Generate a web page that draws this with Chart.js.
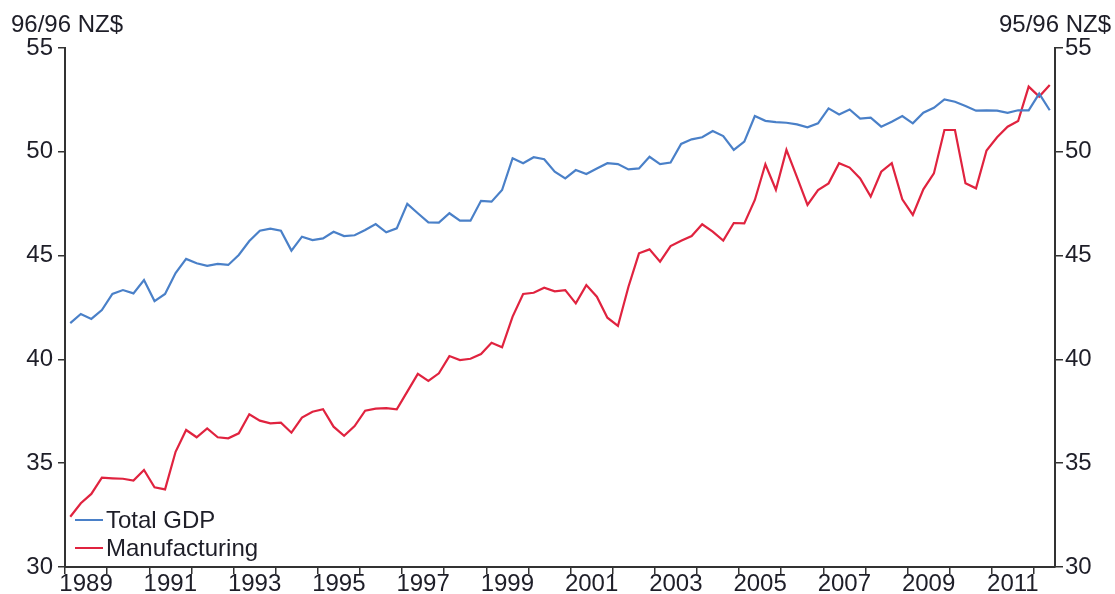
<!DOCTYPE html>
<html><head><meta charset="utf-8">
<script src="https://cdn.jsdelivr.net/npm/chart.js@4.4.0/dist/chart.umd.min.js"></script>
<style>html,body{margin:0;padding:0;background:#fff}#wrap{width:1115px;height:594px}</style>
</head><body><div id="wrap"><canvas id="c" width="1115" height="594"></canvas></div>
<script>
// ---- data ----
const quarters = [];
for (let y = 1989; y <= 2012; y++) {
  for (let q = 1; q <= 4; q++) {
    if (y === 2012 && q > 2) break;
    quarters.push(y + ' Q' + q);
  }
}
const totalGDP = [
  41.75, 42.19, 41.95, 42.38, 43.15, 43.34, 43.18, 43.82, 42.81, 43.15,
  44.16, 44.84, 44.63, 44.51, 44.60, 44.55, 45.03, 45.70, 46.20, 46.30,
  46.20, 45.24, 45.91, 45.75, 45.83, 46.15, 45.94, 45.98, 46.23, 46.52,
  46.12, 46.31, 47.49, 47.04, 46.60, 46.59, 47.04, 46.68, 46.68, 47.64,
  47.60, 48.16, 49.69, 49.45, 49.74, 49.64, 49.04, 48.72, 49.12, 48.93,
  49.20, 49.45, 49.41, 49.15, 49.20, 49.76, 49.41, 49.48, 50.38, 50.60,
  50.70, 51.00, 50.76, 50.09, 50.49, 51.72, 51.49, 51.43, 51.40, 51.32,
  51.18, 51.37, 52.09, 51.80, 52.04, 51.60, 51.64, 51.21, 51.45, 51.72,
  51.37, 51.88, 52.12, 52.52, 52.41, 52.21, 51.98, 52.00, 51.98, 51.88,
  52.00, 52.00, 52.80, 52.00
];
const manufacturing = [
  32.42, 33.07, 33.52, 34.30, 34.27, 34.25, 34.16, 34.67, 33.84, 33.74,
  35.55, 36.60, 36.25, 36.68, 36.25, 36.20, 36.44, 37.36, 37.05, 36.92,
  36.95, 36.47, 37.20, 37.48, 37.60, 36.76, 36.32, 36.79, 37.53, 37.63,
  37.65, 37.60, 38.45, 39.30, 38.96, 39.33, 40.16, 39.97, 40.03, 40.26,
  40.80, 40.58, 42.06, 43.15, 43.21, 43.45, 43.28, 43.34, 42.70, 43.58,
  43.02, 42.01, 41.61, 43.50, 45.11, 45.30, 44.71, 45.46, 45.72, 45.94,
  46.51, 46.15, 45.72, 46.57, 46.55, 47.68, 49.40, 48.17, 50.09, 48.78,
  47.44, 48.16, 48.48, 49.45, 49.24, 48.72, 47.84, 49.04, 49.45, 47.71,
  46.96, 48.19, 48.96, 51.05, 51.05, 48.48, 48.24, 50.06, 50.70, 51.21,
  51.48, 53.14, 52.66, 53.22
];
const seriesNames = ['Total GDP', 'Manufacturing'];
const yearTicks = [1989,1990,1991,1992,1993,1994,1995,1996,1997,1998,1999,2000,
  2001,2002,2003,2004,2005,2006,2007,2008,2009,2010,2011,2012];
const yearLabels = ['1989','1991','1993','1995','1997','1999','2001','2003','2005','2007','2009','2011'];
const yTicks = [30, 35, 40, 45, 50, 55];
const leftUnit = '96/96 NZ$';
const rightUnit = '95/96 NZ$';

// ---- helpers ----
function quarterPos(label) {
  const [y, q] = label.split(' Q');
  return Number(y) + (Number(q) - 0.5) / 4;
}
const toPoints = arr => arr.map((v, i) => ({ x: quarterPos(quarters[i]), y: v }));

const FONT = "'Liberation Sans', Arial, sans-serif";
const FS = 24;
const TXT = '#1e1e28';
const AX = '#333333';
const BLUE = '#4a80c8';
const RED = '#e0233f';

const overlay = {
  id: 'overlay',
  afterDraw(chart) {
    const ctx = chart.ctx;
    const a = chart.chartArea;
    ctx.save();
    ctx.font = FS + 'px ' + FONT;
    ctx.fillStyle = TXT;
    ctx.textBaseline = 'alphabetic';
    ctx.textAlign = 'left';
    ctx.fillText(leftUnit, 11, 32);
    ctx.textAlign = 'right';
    ctx.fillText(rightUnit, 1111, 32);
    // legend inside plot, bottom-left
    const rows = [a.bottom - 47, a.bottom - 19];
    chart.data.datasets.forEach((ds, i) => {
      const y = rows[i];
      ctx.strokeStyle = ds.borderColor;
      ctx.lineWidth = 2;
      ctx.beginPath();
      ctx.moveTo(a.left + 10, y);
      ctx.lineTo(a.left + 38, y);
      ctx.stroke();
      ctx.fillStyle = TXT;
      ctx.textAlign = 'left';
      ctx.textBaseline = 'middle';
      ctx.fillText(ds.label, a.left + 41, y + 1);
    });
    ctx.restore();
  }
};

const yAxisCommon = {
  type: 'linear', min: 30, max: 55,
  afterBuildTicks: s => { s.ticks = yTicks.map(v => ({ value: v })); },
  grid: { drawOnChartArea: false, drawTicks: true, tickLength: 7, color: AX, lineWidth: 1.5 },
  border: { display: true, color: AX, width: 2 },
  ticks: { color: TXT, font: { family: FONT, size: FS } }
};

new Chart(document.getElementById('c'), {
  type: 'line',
  data: {
    datasets: [
      { label: seriesNames[0], data: toPoints(totalGDP), borderColor: BLUE, borderWidth: 2.2, pointRadius: 0, tension: 0, yAxisID: 'y' },
      { label: seriesNames[1], data: toPoints(manufacturing), borderColor: RED, borderWidth: 2.2, pointRadius: 0, tension: 0, yAxisID: 'y2' }
    ]
  },
  options: {
    responsive: false,
    animation: false,
    devicePixelRatio: 1,
    layout: { padding: { top: 48, right: 0, bottom: 0, left: 0 } },
    plugins: { legend: { display: false }, tooltip: { enabled: false }, title: { display: false } },
    scales: {
      x: {
        type: 'linear', min: 1989, max: 2012.5,
        afterBuildTicks: s => {
          const t = [];
          yearTicks.forEach(y => { t.push({ value: y }); t.push({ value: y + 0.5 }); });
          s.ticks = t;
        },
        afterFit: s => { s.height = 27; },
        grid: {
          drawOnChartArea: false, drawTicks: true, tickLength: 7, lineWidth: 1.5,
          color: c => (c.tick && Number.isInteger(c.tick.value)) ? AX : 'rgba(0,0,0,0)'
        },
        border: { display: true, color: AX, width: 2 },
        ticks: {
          autoSkip: false, maxRotation: 0, minRotation: 0, padding: -4,
          color: TXT, font: { family: FONT, size: FS },
          callback: v => {
            if (Number.isInteger(v)) return '';
            const lab = String(Math.floor(v));
            return yearLabels.includes(lab) ? lab : '';
          }
        }
      },
      y: Object.assign({}, yAxisCommon, {
        position: 'left',
        afterFit: s => { s.width = 65; },
        ticks: Object.assign({}, yAxisCommon.ticks, { padding: 5 })
      }),
      y2: Object.assign({}, yAxisCommon, {
        position: 'right',
        afterFit: s => { s.width = 60; },
        grid: Object.assign({}, yAxisCommon.grid, { tickLength: 8 }),
        ticks: Object.assign({}, yAxisCommon.ticks, { padding: 2 })
      })
    }
  },
  plugins: [overlay]
});
</script>
</body></html>
